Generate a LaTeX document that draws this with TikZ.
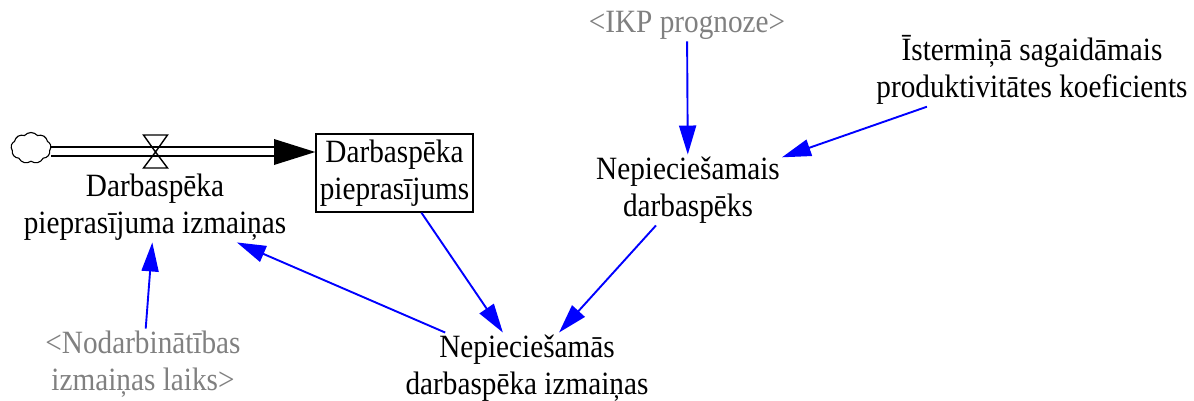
\documentclass[tikz,border=0pt]{standalone}
\usepackage{fontspec}
\setmainfont{Liberation Serif}[FakeStretch=0.9]
\usetikzlibrary{arrows.meta,shapes.symbols}
\definecolor{auxgray}{RGB}{128,128,128}
\definecolor{linkblue}{RGB}{0,0,255}
\begin{document}
\begin{tikzpicture}[x=1pt,y=-1pt,
  txt/.style={align=center,inner sep=2pt,font=\fontsize{32.5}{37}\selectfont},
  shadowvar/.style={txt,text=auxgray},
  stockbox/.style={txt,draw,line width=1.4pt,minimum width=157pt,minimum height=78pt,inner sep=0pt},
  link/.style={color=linkblue,line width=1.9pt,-{Triangle[length=29pt,width=17pt]}},
  pipe/.style={line width=2pt},
]
\useasboundingbox (0,0) rectangle (1194,401);

% variables
\node[shadowvar] (ikp) at (687,25) {<IKP prognoze>};
\node[txt] (prod) at (1032,70) {Īstermiņā sagaidāmais\\produktivitātes koeficients};
\node[txt] (need) at (688,190) {Nepieciešamais\\darbaspēks};
\node[txt] (chg) at (527,368) {Nepieciešamās\\darbaspēka izmaiņas};
\node[shadowvar] (empl) at (143,364) {<Nodarbinātības\\izmaiņas laiks>};

% stock, source cloud, flow
\node[stockbox] (stock) at (394.5,173) {Darbaspēka\\pieprasījums};
\node[cloud,draw,line width=1.1pt,cloud puffs=9,cloud puff arc=100,aspect=1.3,
      minimum width=40pt,minimum height=31pt,inner sep=0pt] (src) at (31,148) {};
\coordinate (valve) at (155.5,152);
\coordinate (pipeend) at (274,152);
\node[txt] (rate) at (155,207) {Darbaspēka\\pieprasījuma izmaiņas};

\draw[pipe] (src.east |- 0,147.5) -- (pipeend |- 0,147.5);
\draw[pipe] (src.east |- 0,156.5) -- (pipeend |- 0,156.5);
\fill (pipeend |- 0,139) -- (pipeend -| stock.west) -- (pipeend |- 0,165) -- cycle;
\draw[line width=1.4pt] (valve) -- ++(-12,-17) -- ++(24,0) -- cycle
                        (valve) -- ++(-12,16) -- ++(24,0) -- cycle;

% causal links
\draw[link] (ikp) -- (need);
\draw[link] (prod) -- (need);
\draw[link] (need) -- (chg);
\draw[link] (stock) -- (chg);
\draw[link] (chg) -- (rate);
\draw[link] (empl) -- (rate);
\end{tikzpicture}
\end{document}
